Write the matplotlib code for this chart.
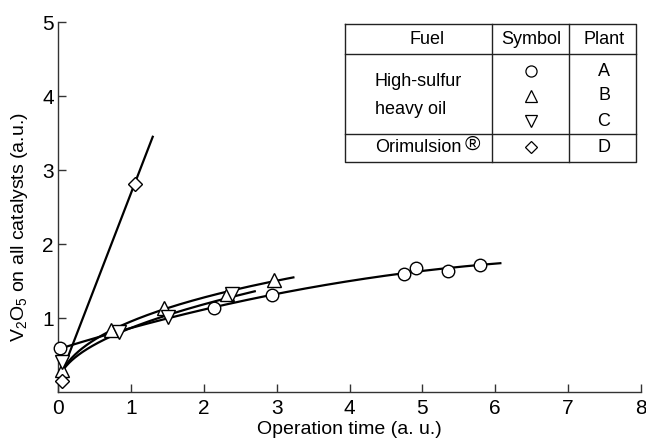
import matplotlib
matplotlib.use('Agg')
import matplotlib.pyplot as plt
import numpy as np

plt.rcParams['font.family'] = ['Liberation Sans', 'DejaVu Sans']
plt.rcParams['mathtext.fontset'] = 'custom'
plt.rcParams['mathtext.rm'] = 'Liberation Sans'
plt.rcParams['mathtext.it'] = 'Liberation Sans'

# plant A (circles), B (up triangles), C (down triangles), D (diamonds)
a_x = [0.03, 2.14, 2.94, 4.75, 4.91, 5.35, 5.79]
a_y = [0.59, 1.14, 1.31, 1.59, 1.68, 1.64, 1.72]
b_x = [0.05, 0.73, 1.46, 2.32, 2.97]
b_y = [0.30, 0.84, 1.13, 1.32, 1.52]
c_x = [0.05, 0.84, 1.51, 2.39]
c_y = [0.41, 0.81, 1.02, 1.32]
d_x = [0.05, 1.05]
d_y = [0.15, 2.81]

# common starting point of the fitted curves, and where each curve stops
start_x, start_y = 0.06, 0.28
a_end, b_end, c_end, d_end = 6.07, 3.23, 2.70, 1.30

fig = plt.figure(figsize=(6.46, 4.45), dpi=100)
ax = fig.add_axes([58 / 646, 53 / 445, 583 / 646, 370 / 445])

# --- fitted curves ---
pa = np.polyfit(a_x, a_y, 2)
xs = np.linspace(a_x[0], a_end, 200)
ax.plot(xs, np.polyval(pa, xs), color='black', lw=1.6, zorder=2)

bx = np.sqrt([start_x] + b_x[1:])
pb = np.polyfit(bx, [start_y] + b_y[1:], 2)
xs = np.linspace(start_x, b_end, 200)
ax.plot(xs, np.polyval(pb, np.sqrt(xs)), color='black', lw=1.6, zorder=2)

cx = np.sqrt([start_x] + c_x[1:] + [c_end])
pc = np.polyfit(cx, [start_y] + c_y[1:] + [1.34], 2)
xs = np.linspace(start_x, c_end, 200)
ax.plot(xs, np.polyval(pc, np.sqrt(xs)), color='black', lw=1.6, zorder=2)

slope = (d_y[1] - start_y) / (d_x[1] - start_x)
xs = np.array([start_x, d_end])
ax.plot(xs, start_y + slope * (xs - start_x), color='black', lw=1.6, zorder=2)

# --- markers ---
mk = dict(linestyle='none', markerfacecolor='white', markeredgecolor='black',
          markeredgewidth=1.0, clip_on=False, zorder=3)
ax.plot(a_x, a_y, marker='o', markersize=9, **mk)
ax.plot(b_x, b_y, marker='^', markersize=9.5, **mk)
ax.plot(c_x, c_y, marker='v', markersize=9.5, **mk)
ax.plot(d_x, d_y, marker='D', markersize=7, **mk)

ax.set_xlim(0, 8)
ax.set_ylim(0, 5)
ax.set_xticks(range(0, 9))
ax.set_yticks(range(1, 6))
for s in ['top', 'right']:
    ax.spines[s].set_visible(False)
for s in ['left', 'bottom']:
    ax.spines[s].set_color('#333333')
    ax.spines[s].set_linewidth(1.0)
ax.tick_params(direction='in', length=6, width=1, color='#333333', labelsize=15)
ax.tick_params(axis='x', pad=5)
ax.tick_params(axis='y', pad=3)
ax.set_xlabel('Operation time (a. u.)', fontsize=14, labelpad=2)
ax.set_ylabel(r'V$_2$O$_5$ on all catalysts (a.u.)', fontsize=14)
ax.yaxis.set_label_coords(-0.048, 0.446)

# --- table (pixel coordinates) ---
tb = fig.add_axes([0, 0, 1, 1], zorder=5)
tb.set_xlim(0, 646)
tb.set_ylim(445, 0)
tb.axis('off')
tb.patch.set_alpha(0)
x0, x1, x2, x3 = 345, 492, 569, 636
y0, y1, y2, y3 = 24, 54, 134, 162
lc = dict(color='#222222', lw=1.0)
tb.plot([x0, x3, x3, x0, x0], [y0, y0, y3, y3, y0], **lc)
tb.plot([x0, x3], [y1, y1], **lc)
tb.plot([x0, x3], [y2, y2], **lc)
tb.plot([x1, x1], [y0, y3], **lc)
tb.plot([x2, x2], [y0, y3], **lc)

fs = 13
tb.text(427, 40, 'Fuel', ha='center', va='center', fontsize=fs)
tb.text(531, 40, 'Symbol', ha='center', va='center', fontsize=fs)
tb.text(604, 40, 'Plant', ha='center', va='center', fontsize=fs)
tb.text(375, 81, 'High-sulfur', ha='left', va='center', fontsize=fs)
tb.text(375, 109, 'heavy oil', ha='left', va='center', fontsize=fs)
tb.text(375, 148, 'Orimulsion', ha='left', va='center', fontsize=fs)
tb.text(465, 144, '®', ha='left', va='center', fontsize=15)

plants = ['A', 'B', 'C', 'D']
symbols = ['o', '^', 'v', 'D']
rows_y = [71, 96, 121, 147]
for p, s, yy in zip(plants, symbols, rows_y):
    tb.plot([531], [yy], marker=s, markersize=8 if s != 'D' else 6.5,
            markerfacecolor='white', markeredgecolor='black', markeredgewidth=0.9)
    tb.text(604, yy, p, ha='center', va='center', fontsize=fs)

fig.savefig('out.png', dpi=100, facecolor='white')
